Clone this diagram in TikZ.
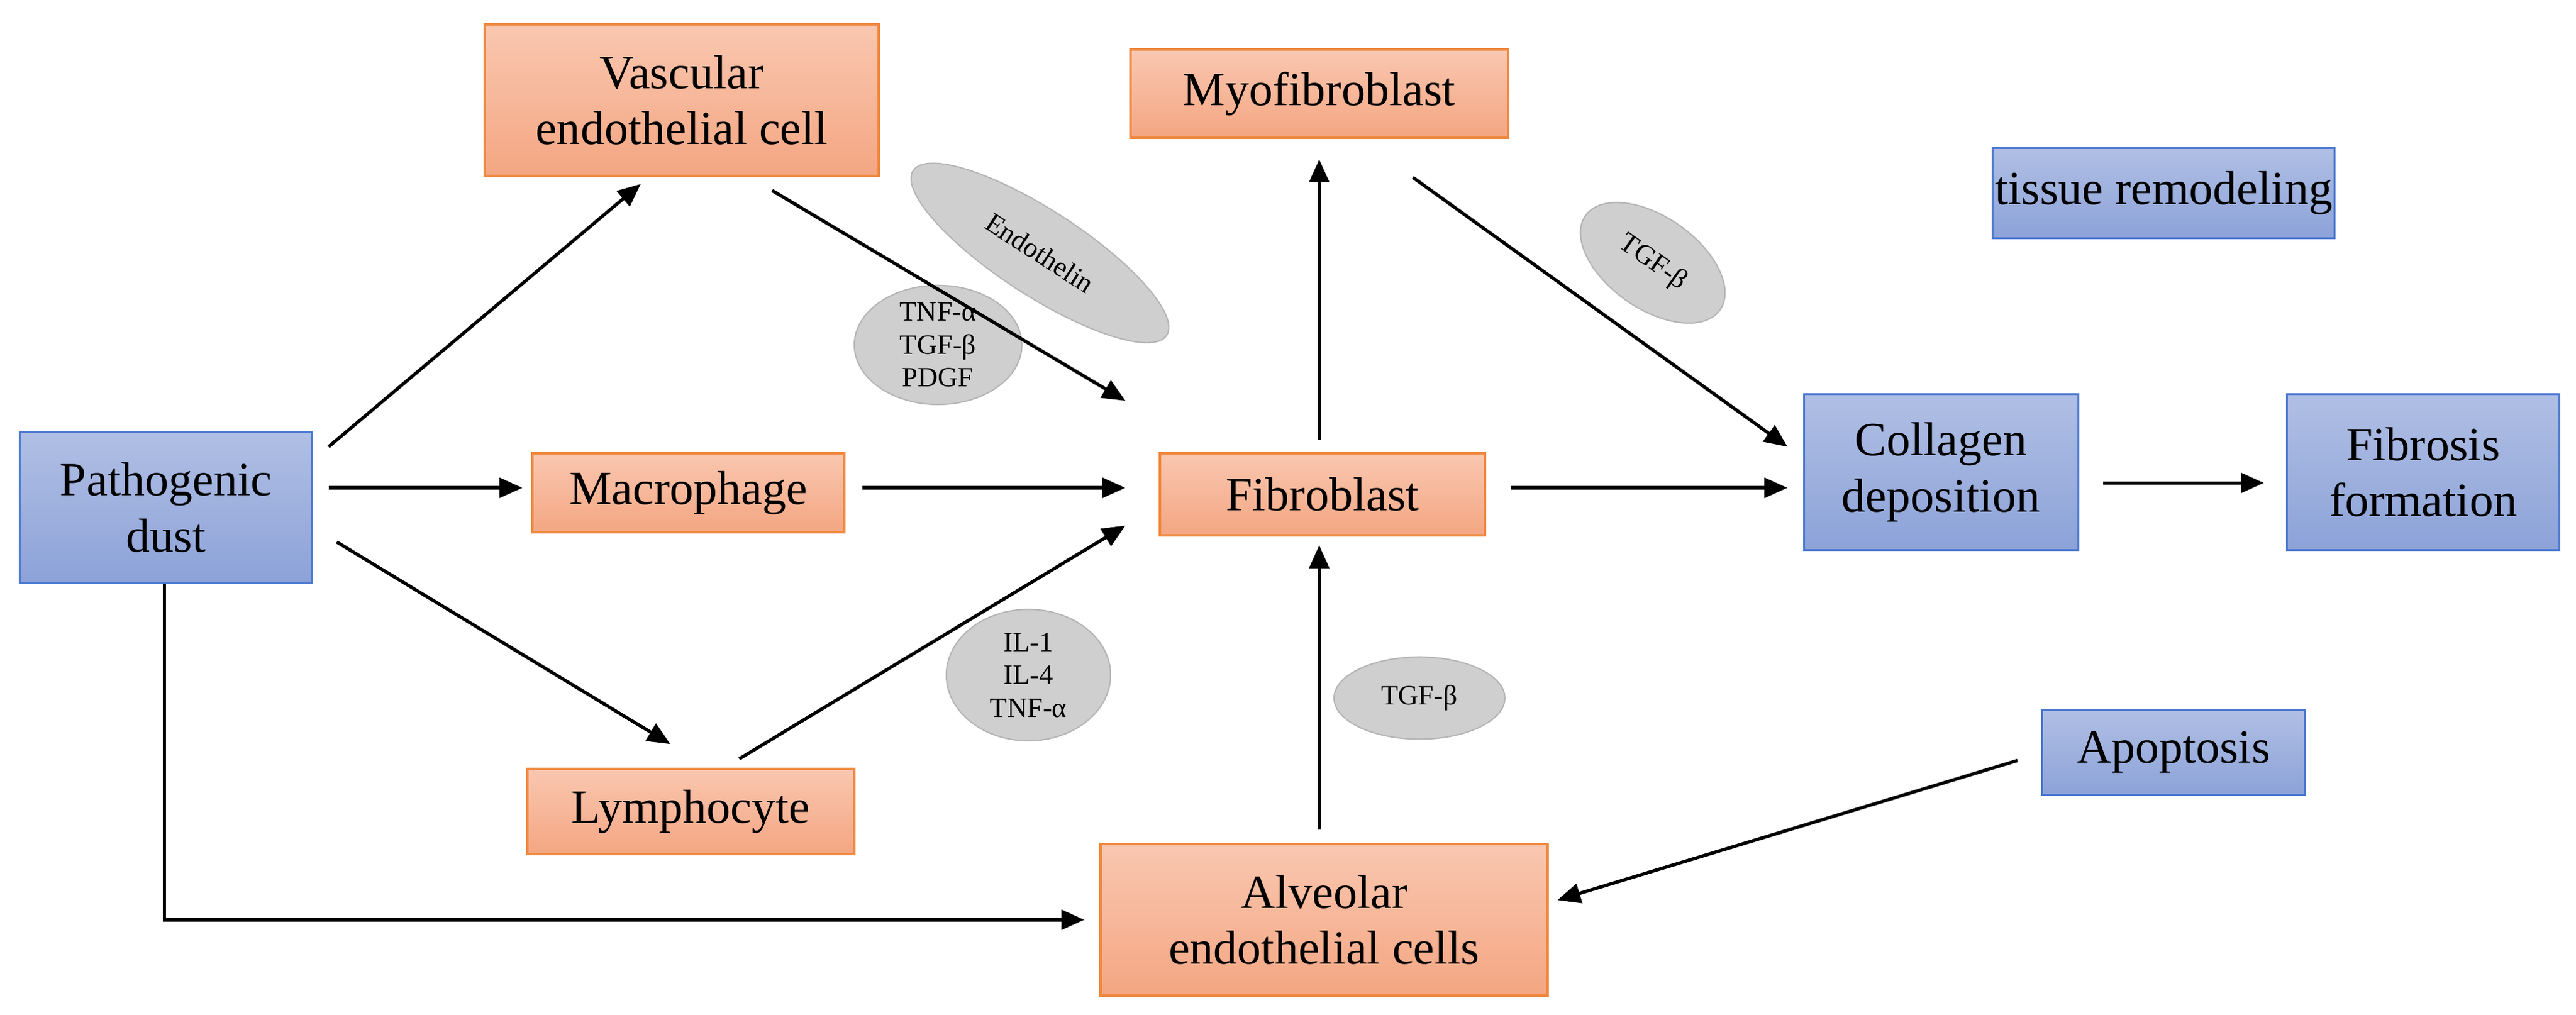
\documentclass[tikz,border=0pt]{standalone}
\usepackage{fontspec}
\setmainfont{Liberation Serif}
\newfontfamily\tms{Liberation Serif}
\usetikzlibrary{arrows.meta,shapes.geometric}
\definecolor{otop}{HTML}{F9C7B0}
\definecolor{obot}{HTML}{F4A682}
\definecolor{oline}{HTML}{F0883E}
\definecolor{btop}{HTML}{B0BFE4}
\definecolor{bbot}{HTML}{8CA2D8}
\definecolor{bline}{HTML}{4A78D0}
\definecolor{gfill}{HTML}{CFCFCF}
\definecolor{gline}{HTML}{B5B5B5}
\begin{document}
\begin{tikzpicture}[x=0.5pt,y=-0.5pt,
  ob/.style={draw=oline, line width=0.8pt, top color=otop, bottom color=obot, font=\tms\fontsize{14.5}{17}\selectfont, align=center, inner sep=0pt},
  bb/.style={draw=bline, line width=0.6pt, top color=btop, bottom color=bbot, font=\tms\fontsize{14.5}{17}\selectfont, align=center, inner sep=0pt},
  el/.style={draw=gline, fill=gfill, font=\tms\fontsize{8.5}{10}\selectfont, align=center},
  ar/.style={-{Triangle[length=7pt,width=6pt]}, line width=1pt}]
\useasboundingbox (0,0) rectangle (1568,617.6);
\node[bb, minimum width=89pt, minimum height=46pt] (dust) at (101,309) {Pathogenic\\dust};
\node[ob, minimum width=120pt, minimum height=46pt] (vasc) at (415,61) {Vascular\\endothelial cell};
\node[ob, minimum width=95pt, minimum height=24pt] (mac) at (419,300) {Macrophage};
\node[ob, minimum width=99.5pt, minimum height=26pt] (lym) at (420.5,494) {Lymphocyte};
\node[ob, minimum width=136pt, minimum height=46pt] (alv) at (806,560) {Alveolar\\endothelial cells};
\node[ob, minimum width=99pt, minimum height=25pt] (fib) at (805,301) {Fibroblast};
\node[ob, minimum width=115pt, minimum height=27pt] (myo) at (803,57) {Myofibroblast};
\node[bb, minimum width=104pt, minimum height=27.5pt] (tis) at (1317,117.5) {tissue remodeling};
\node[bb, minimum width=83.5pt, minimum height=47.5pt] (col) at (1181.5,287.5) {Collagen\\deposition};
\node[bb, minimum width=83pt, minimum height=47.5pt] (fibf) at (1475,287.5) {Fibrosis\\formation};
\node[bb, minimum width=80pt, minimum height=26pt] (apo) at (1323,458) {Apoptosis};
\node[el, ellipse, minimum width=92pt, minimum height=26pt, inner sep=0pt, rotate=-33] (endo) at (633,154) {Endothelin};
\node[el, ellipse, minimum width=51pt, minimum height=36pt, inner sep=0pt] (tnf) at (571,210) {TNF-α\\TGF-β\\PDGF};
\node[el, ellipse, minimum width=50pt, minimum height=40pt, inner sep=0pt] (il) at (626,411) {IL-1\\IL-4\\TNF-α};
\node[el, ellipse, minimum width=52pt, minimum height=25pt, inner sep=0pt] (tgf1) at (864,425) {TGF-β};
\node[el, ellipse, minimum width=50pt, minimum height=28pt, inner sep=0pt, rotate=-35] (tgf2) at (1006,160) {TGF-β};
\coordinate (f1) at (685,244); \coordinate (f2) at (685,297); \coordinate (f3) at (685,320);
\coordinate (c1) at (1088,272); \coordinate (c2) at (1088,297);
\coordinate (corner) at (100,560); \coordinate (a1) at (660,560);
\coordinate (m0) at (525,297); \coordinate (al0) at (803,505); \coordinate (fi0) at (803,268);
\coordinate (d2) at (200,297); \coordinate (mw) at (318,297);
\draw[ar] (200,272) -- (390,112);
\draw[ar] (d2) -- (mw);
\draw[ar] (205,330) -- (408,453);
\draw[ar] (dust.south -| corner) -- (corner) -- (a1);
\draw[ar] (470,116) -- (f1);
\draw[ar] (m0) -- (f2);
\draw[ar] (450,462) -- (f3);
\draw[ar] (al0) -- (803,332);
\draw[ar] (fi0) -- (803,97);
\draw[ar] (920,297) -- (c2);
\draw[ar] (860,108) -- (c1);
\draw[ar] (1280,294) -- (1378,294);
\draw[ar] (1228,463) -- (948,548);
\end{tikzpicture}
\end{document}
